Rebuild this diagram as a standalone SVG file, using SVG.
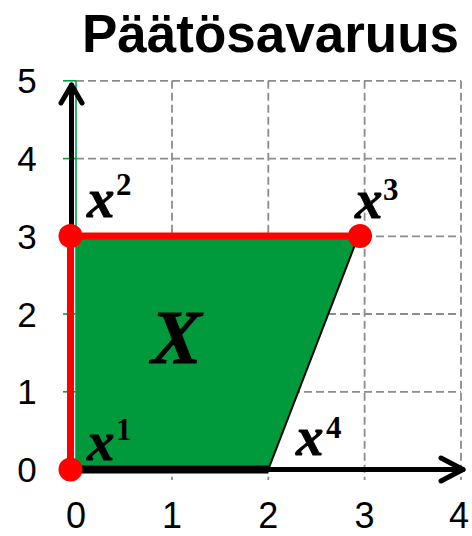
<svg xmlns="http://www.w3.org/2000/svg" width="472" height="536" viewBox="0 0 472 536">
<style>
.grid{stroke:#8c8c8c;stroke-width:1.8;stroke-dasharray:8,4;fill:none}
.gtick{stroke:#00a040;stroke-width:1.6}
.num{font-family:"Liberation Sans",Arial,sans-serif;font-size:35px;fill:#000;text-anchor:middle}
.xnum{font-size:36px}
.title{font-family:"Liberation Sans",Arial,sans-serif;font-size:53px;font-weight:bold;fill:#000}
.var{font-family:"Liberation Serif","Times New Roman",serif;font-size:55px;font-weight:bold;font-style:italic;fill:#000;stroke:#000;stroke-width:0.8}
.sup{font-family:"Liberation Serif","Times New Roman",serif;font-size:31px;font-weight:bold;fill:#000}
.axis{stroke:#000;stroke-width:5;fill:none;stroke-linecap:round;stroke-linejoin:round}
.red{stroke:#ff0000;stroke-width:7;fill:none}
.pt{fill:#ff0000}
</style>
<rect width="472" height="536" fill="#fff"/>
<text class="title" x="82" y="52">Päätösavaruus</text>
<g id="grid">
<line class="grid" x1="76" y1="80.8" x2="461" y2="80.8"/>
<line class="grid" x1="76" y1="158.6" x2="461" y2="158.6"/>
<line class="grid" x1="76" y1="236.3" x2="461" y2="236.3"/>
<line class="grid" x1="76" y1="314" x2="461" y2="314"/>
<line class="grid" x1="76" y1="391.8" x2="461" y2="391.8"/>
<line class="grid" x1="172" y1="80.8" x2="172" y2="480"/>
<line class="grid" x1="268.3" y1="80.8" x2="268.3" y2="480"/>
<line class="grid" x1="364.6" y1="80.8" x2="364.6" y2="480"/>
<line class="grid" x1="461" y1="80.8" x2="461" y2="480"/>
<line stroke="#8c8c8c" stroke-width="1.8" x1="76" y1="469.5" x2="76" y2="480"/>
<line class="gtick" x1="76" y1="80.8" x2="76" y2="469.5"/>
<line class="gtick" x1="63" y1="80.8" x2="76" y2="80.8"/>
<line class="gtick" x1="63" y1="158.6" x2="76" y2="158.6"/>
<line class="gtick" x1="63" y1="236.3" x2="76" y2="236.3"/>
<line class="gtick" x1="63" y1="314" x2="76" y2="314"/>
<line class="gtick" x1="63" y1="391.8" x2="76" y2="391.8"/>
</g>
<g id="ylabels">
<text class="num" x="27" y="93.3">5</text>
<text class="num" x="27" y="171.1">4</text>
<text class="num" x="27" y="248.8">3</text>
<text class="num" x="27" y="326.5">2</text>
<text class="num" x="27" y="404.3">1</text>
<text class="num" x="27" y="482">0</text>
</g>
<g id="xlabels">
<text class="num xnum" x="76" y="528">0</text>
<text class="num xnum" x="172" y="528">1</text>
<text class="num xnum" x="268.3" y="528">2</text>
<text class="num xnum" x="364.6" y="528">3</text>
<text class="num xnum" x="459" y="528">4</text>
</g>
<g id="region-X">
<polygon points="76,469.5 76,236 358,236 268.3,469.5" fill="#009a3c"/>
<line x1="358" y1="237" x2="268.3" y2="469.5" stroke="#000" stroke-width="2"/>
<text class="var" x="151" y="363" style="font-size:76px">X</text>
</g>
<g id="axes">
<polyline class="axis" points="71.5,469.5 71.5,85"/>
<polyline class="axis" points="61,103 71.5,85 82,103"/>
<polyline class="axis" points="70,469.5 463,469.5"/>
<polyline class="axis" points="441,458 463,469.5 441,481"/>
<line x1="70" y1="469.5" x2="268.3" y2="469.5" stroke="#000" stroke-width="8"/>
</g>
<g id="connectors">
<polyline class="red" points="70.5,469.5 70.5,236 360,236"/>
</g>
<g id="x1">
<circle class="pt" cx="70.5" cy="469.5" r="12"/>
<text class="var" x="87" y="460">x</text>
<text class="sup" x="116" y="440">1</text>
</g>
<g id="x2">
<circle class="pt" cx="70.5" cy="236" r="12"/>
<text class="var" x="87" y="217">x</text>
<text class="sup" x="116" y="195">2</text>
</g>
<g id="x3">
<circle class="pt" cx="360" cy="236" r="12"/>
<text class="var" x="355" y="218">x</text>
<text class="sup" x="383" y="200">3</text>
</g>
<g id="x4">
<text class="var" x="296" y="455">x</text>
<text class="sup" x="326" y="438">4</text>
</g>
</svg>
